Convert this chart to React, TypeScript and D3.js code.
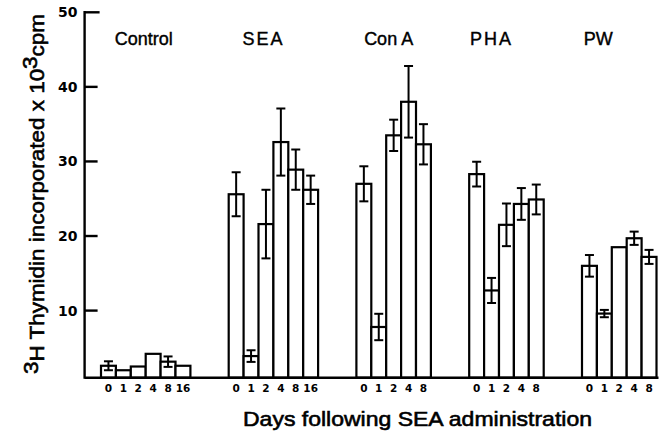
import React from "react";
import * as d3 from "d3";

const groups = ["Control", "SEA", "Con A", "PHA", "PW"];
const controlDays = ["0", "1", "2", "4", "8", "16"];
const seaDays = ["0", "1", "2", "4", "8", "16"];
const conADays = ["0", "1", "2", "4", "8"];
const phaDays = ["0", "1", "2", "4", "8"];
const pwDays = ["0", "1", "2", "4", "8"];

const controlMeans = [2.6, 2.0, 2.5, 4.2, 3.15, 2.6];
const controlErrors = [0.6, null, null, null, 0.7, null];
const seaMeans = [25.6, 3.9, 21.6, 32.6, 28.9, 26.2];
const seaErrors = [2.95, 0.78, 4.6, 4.5, 2.7, 1.9];
const conAMeans = [27.0, 7.8, 33.5, 38.0, 32.3];
const conAErrors = [2.35, 1.77, 2.1, 4.8, 2.7];
const phaMeans = [28.3, 12.7, 21.5, 24.3, 24.9];
const phaErrors = [1.66, 1.68, 2.86, 2.13, 2.0];
const pwMeans = [16.0, 9.6, 18.5, 19.7, 17.2];
const pwErrors = [1.45, 0.49, null, 0.89, 0.94];

const yTicks = [10, 20, 30, 40, 50];

const W = 666;
const H = 433;

// layout constants
const plotLeft = 101;
const plotRight = 656.5;
const gapUnits = 2.57;
const labelShift = [-2, -10, -5, -15, -21];

export default function App() {
  const days = [controlDays, seaDays, conADays, phaDays, pwDays];
  const means = [controlMeans, seaMeans, conAMeans, phaMeans, pwMeans];
  const errors = [controlErrors, seaErrors, conAErrors, phaErrors, pwErrors];

  const y = d3.scaleLinear().domain([1, 50]).range([377.7, 12.3]);
  const totalUnits = d3.sum(days, (d) => d.length) + gapUnits * (groups.length - 1);
  const x = d3.scaleLinear().domain([0, totalUnits]).range([plotLeft, plotRight]);

  const starts: number[] = [];
  let acc = 0;
  days.forEach((d) => {
    starts.push(acc);
    acc += d.length + gapUnits;
  });

  const axisX = 84.6;
  const base = y(1);
  const font = "'Liberation Sans', Arial, sans-serif";
  const boldFont = "'DejaVu Sans', sans-serif";

  return (
    <svg
      width={W}
      height={H}
      style={{ position: "absolute", left: 0, top: 0, background: "#fff" }}
    >
      <rect x={0} y={0} width={W} height={H} fill="#fff" />
      {/* bars */}
      {groups.map((g, gi) => (
        <g key={g}>
          {means[gi].map((v, i) => {
            const x0 = x(starts[gi] + i);
            const x1 = x(starts[gi] + i + 1);
            return (
              <rect
                key={i}
                x={x0}
                y={y(v)}
                width={x1 - x0}
                height={base - y(v)}
                fill="#fff"
                stroke="#000"
                strokeWidth={2.2}
              />
            );
          })}
          {means[gi].map((v, i) => {
            const e = errors[gi][i];
            if (e == null) return null;
            const cx = x(starts[gi] + i + 0.5);
            return (
              <g key={"e" + i} stroke="#000" strokeWidth={2}>
                <line x1={cx} x2={cx} y1={y(v + e)} y2={y(v - e)} />
                <line x1={cx - 4.5} x2={cx + 4.5} y1={y(v + e)} y2={y(v + e)} />
                <line x1={cx - 4.5} x2={cx + 4.5} y1={y(v - e)} y2={y(v - e)} />
              </g>
            );
          })}
          {days[gi].map((d, i) => (
            <text
              key={"d" + i}
              x={x(starts[gi] + i + 0.5)}
              y={392}
              textAnchor="middle"
              fontFamily={boldFont}
              fontWeight="bold"
              fontSize={10.5}
              fill="#000"
            >
              {d}
            </text>
          ))}
          <text
            x={(x(starts[gi]) + x(starts[gi] + days[gi].length)) / 2 + labelShift[gi]}
            y={44.5}
            textAnchor="middle"
            fontFamily={font}
            fontSize={18}
            letterSpacing={g === "SEA" || g === "PHA" ? 2 : 0}
            fill="#000"
            stroke="#000"
            strokeWidth={0.4}
          >
            {g}
          </text>
        </g>
      ))}
      {/* axes */}
      <line x1={axisX} x2={plotRight + 2} y1={base} y2={base} stroke="#000" strokeWidth={2.4} />
      <line x1={axisX} x2={axisX} y1={base + 1} y2={y(50) - 1.2} stroke="#000" strokeWidth={2.4} />
      {yTicks.map((t) => (
        <g key={t}>
          <line
            x1={axisX}
            x2={axisX + (t === 50 ? 15 : 13)}
            y1={y(t)}
            y2={y(t)}
            stroke="#000"
            strokeWidth={2.4}
          />
          <text
            x={77.5}
            y={y(t) + 5}
            textAnchor="end"
            fontFamily={boldFont}
            fontWeight="bold"
            fontSize={14}
            fill="#000"
          >
            {t}
          </text>
        </g>
      ))}
      {/* axis titles */}
      <text
        x={243}
        y={426}
        fontFamily={font}
        fontSize={21}
        textLength={349}
        lengthAdjust="spacingAndGlyphs"
        fill="#000"
        stroke="#000"
        strokeWidth={0.6}
      >
        Days following SEA administration
      </text>
      <text
        transform={`translate(44,374) rotate(-90)`}
        x={0}
        y={0}
        fontFamily={font}
        fontSize={21}
        textLength={360}
        lengthAdjust="spacingAndGlyphs"
        fill="#000"
        stroke="#000"
        strokeWidth={0.6}
      >
        <tspan dy={-6}>3</tspan>
        <tspan dy={6}>H Thymidin incorporated x 10</tspan>
        <tspan dy={-7}>3</tspan>
        <tspan dy={7}>cpm</tspan>
      </text>
    </svg>
  );
}
